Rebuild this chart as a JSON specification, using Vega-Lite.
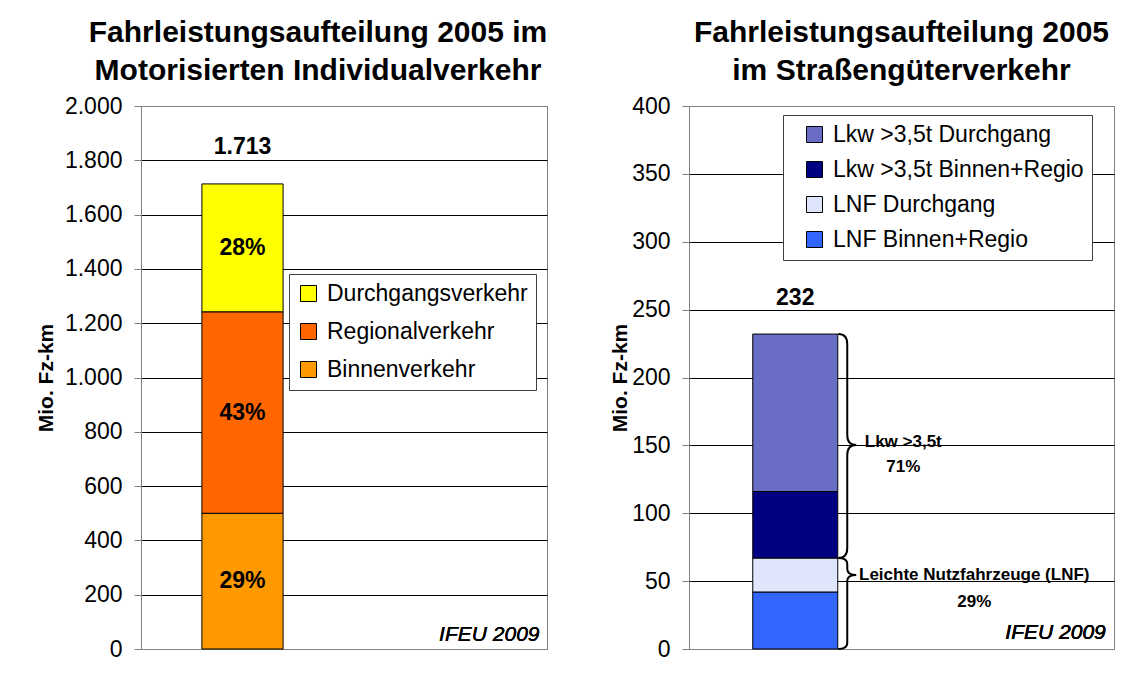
{
  "$schema": "https://vega.github.io/schema/vega-lite/v6.json",
  "background": "white",
  "padding": {"left": 34, "top": 17, "right": 5, "bottom": 5},
  "spacing": 61,
  "resolve": {"scale": {"color": "independent", "y": "independent", "x": "independent"}, "legend": {"color": "independent"}},
  "config": {
    "font": "Liberation Sans",
    "locale": {"number": {"decimal": ",", "thousands": ".", "grouping": [3], "currency": ["", " €"]}},
    "view": {"stroke": "#808080", "strokeWidth": 1},
    "axis": {
      "labelFont": "Liberation Sans", "labelFontSize": 23, "labelColor": "black",
      "titleFont": "Liberation Sans", "titleFontSize": 21, "titleFontWeight": "bold", "titleColor": "black",
      "domainColor": "#808080", "tickColor": "#808080", "tickSize": 7, "labelPadding": 12, "titlePadding": 8,
      "gridColor": "black", "gridWidth": 1
    },
    "legend": {
      "labelFont": "Liberation Sans", "labelFontSize": 23, "labelColor": "black",
      "symbolType": "square", "symbolSize": 256, "symbolStrokeColor": "black", "symbolStrokeWidth": 1,
      "fillColor": "white", "strokeColor": "#404040", "padding": 8, "labelOffset": 7, "orient": "none", "labelLimit": 400
    },
    "title": {"font": "Liberation Sans", "fontSize": 30, "fontWeight": "bold", "color": "black", "lineHeight": 38, "anchor": "middle", "frame": "group", "offset": 9},
    "text": {"color": "black"}
  },
  "hconcat": [
    {
      "width": 406,
      "height": 543,
      "title": {"text": ["Fahrleistungsaufteilung 2005 im", "Motorisierten Individualverkehr"], "dx": -26},
      "data": {"values": [
        {"cat": "MIV", "typ": "Binnenverkehr", "value": 500, "ord": 1, "label": "29%"},
        {"cat": "MIV", "typ": "Regionalverkehr", "value": 742, "ord": 2, "label": "43%"},
        {"cat": "MIV", "typ": "Durchgangsverkehr", "value": 471, "ord": 3, "label": "28%"}
      ]},
      "layer": [
        {
          "mark": {"type": "bar", "stroke": "black", "strokeWidth": 1},
          "encoding": {
            "x": {"field": "cat", "type": "nominal", "scale": {"domain": ["MIV", "_"], "paddingInner": 0.6, "paddingOuter": 0.3}, "axis": null},
            "y": {"field": "value", "type": "quantitative", "stack": "zero", "scale": {"domain": [0, 2000]},
              "axis": {"title": "Mio. Fz-km", "titlePadding": 8, "values": [0, 200, 400, 600, 800, 1000, 1200, 1400, 1600, 1800, 2000], "format": ",d",
                "gridColor": {"condition": {"test": "datum.value === 0 || datum.value === 2000", "value": "#808080"}, "value": "black"}}},
            "color": {"field": "typ", "type": "nominal",
              "scale": {"domain": ["Durchgangsverkehr", "Regionalverkehr", "Binnenverkehr"], "range": ["#FFFF00", "#FF6600", "#FF9900"]},
              "legend": {"title": null, "legendX": 148, "legendY": 168, "rowPadding": 14}},
            "order": {"field": "ord", "type": "quantitative"}
          }
        },
        {
          "mark": {"type": "text", "fontSize": 23, "fontWeight": "bold", "baseline": "middle"},
          "encoding": {
            "x": {"field": "cat", "type": "nominal"},
            "y": {"field": "value", "type": "quantitative", "stack": "zero", "bandPosition": 0.5},
            "text": {"field": "label"},
            "order": {"field": "ord", "type": "quantitative"}
          }
        },
        {
          "transform": [{"aggregate": [{"op": "sum", "field": "value", "as": "total"}], "groupby": ["cat"]}],
          "mark": {"type": "text", "fontSize": 23, "fontWeight": "bold", "baseline": "middle", "dy": -37},
          "encoding": {
            "x": {"field": "cat", "type": "nominal"},
            "y": {"field": "total", "type": "quantitative"},
            "text": {"field": "total", "type": "quantitative", "format": ",d"}
          }
        },
        {
          "mark": {"type": "text", "text": "IFEU 2009", "fontStyle": "italic", "fontSize": 21, "align": "right", "baseline": "middle", "dx": 94, "dy": -14},
          "encoding": {"x": {"datum": "_", "type": "nominal"}, "y": {"datum": 0, "type": "quantitative"}}
        }
      ]
    },
    {
      "width": 425,
      "height": 543,
      "title": {"text": ["Fahrleistungsaufteilung 2005", "im Straßengüterverkehr"]},
      "data": {"values": [
        {"cat": "SGV", "typ": "LNF Binnen+Regio", "value": 42, "ord": 1, "grp": "LNF", "grpText": "Leichte Nutzfahrzeuge (LNF)\n29%"},
        {"cat": "SGV", "typ": "LNF Durchgang", "value": 25, "ord": 2, "grp": "LNF", "grpText": "Leichte Nutzfahrzeuge (LNF)\n29%"},
        {"cat": "SGV", "typ": "Lkw >3,5t Binnen+Regio", "value": 49, "ord": 3, "grp": "Lkw", "grpText": "Lkw >3,5t\n71%"},
        {"cat": "SGV", "typ": "Lkw >3,5t Durchgang", "value": 116, "ord": 4, "grp": "Lkw", "grpText": "Lkw >3,5t\n71%"}
      ]},
      "layer": [
        {
          "mark": {"type": "bar", "stroke": "black", "strokeWidth": 1},
          "encoding": {
            "x": {"field": "cat", "type": "nominal", "scale": {"domain": ["SGV", "_"], "paddingInner": 0.6, "paddingOuter": 0.3}, "axis": null},
            "y": {"field": "value", "type": "quantitative", "stack": "zero", "scale": {"domain": [0, 400]},
              "axis": {"title": "Mio. Fz-km", "titlePadding": 1, "values": [0, 50, 100, 150, 200, 250, 300, 350, 400], "format": ",d",
                "gridColor": {"condition": {"test": "datum.value === 0 || datum.value === 400", "value": "#808080"}, "value": "black"}}},
            "color": {"field": "typ", "type": "nominal",
              "scale": {"domain": ["Lkw >3,5t Durchgang", "Lkw >3,5t Binnen+Regio", "LNF Durchgang", "LNF Binnen+Regio"], "range": ["#6a6dc4", "#000080", "#dfe5fa", "#3366FF"]},
              "legend": {"title": null, "legendX": 94, "legendY": 9, "rowPadding": 11, "symbolOffset": 12}},
            "order": {"field": "ord", "type": "quantitative"}
          }
        },
        {
          "transform": [{"aggregate": [{"op": "sum", "field": "value", "as": "total"}], "groupby": ["cat"]}],
          "mark": {"type": "text", "fontSize": 23, "fontWeight": "bold", "baseline": "middle", "dy": -36},
          "encoding": {
            "x": {"field": "cat", "type": "nominal"},
            "y": {"field": "total", "type": "quantitative"},
            "text": {"field": "total", "type": "quantitative", "format": ",d"}
          }
        },
        {
          "transform": [
            {"aggregate": [{"op": "sum", "field": "value", "as": "gsum"}], "groupby": ["cat", "grp", "grpText"]},
            {"stack": "gsum", "groupby": ["cat"], "sort": [{"field": "grp", "order": "ascending"}], "as": ["g0", "g1"]},
            {"filter": "datum.grp === 'Lkw'"}
          ],
          "mark": {"type": "point", "shape": "M0,0 Q0.18,0 0.18,0.2 L0.18,2.02 Q0.18,2.22 0.36,2.22 Q0.18,2.22 0.18,2.42 L0.18,4.28 Q0.18,4.48 0,4.48", "size": 10000, "filled": false, "stroke": "black", "strokeWidth": 2, "opacity": 1, "xOffset": 43},
          "encoding": {
            "x": {"field": "cat", "type": "nominal"},
            "y": {"field": "g1", "type": "quantitative"}
          }
        },
        {
          "transform": [
            {"aggregate": [{"op": "sum", "field": "value", "as": "gsum"}], "groupby": ["cat", "grp", "grpText"]},
            {"stack": "gsum", "groupby": ["cat"], "sort": [{"field": "grp", "order": "ascending"}], "as": ["g0", "g1"]},
            {"filter": "datum.grp === 'LNF'"}
          ],
          "mark": {"type": "point", "shape": "M0,0 Q0.18,0 0.18,0.12 L0.18,0.22 Q0.18,0.34 0.36,0.34 Q0.18,0.34 0.18,0.46 L0.18,1.7 Q0.18,1.82 0,1.82", "size": 10000, "filled": false, "stroke": "black", "strokeWidth": 2, "opacity": 1, "xOffset": 43},
          "encoding": {
            "x": {"field": "cat", "type": "nominal"},
            "y": {"field": "g1", "type": "quantitative"}
          }
        },
        {
          "transform": [
            {"aggregate": [{"op": "sum", "field": "value", "as": "gsum"}], "groupby": ["cat", "grp", "grpText"]},
            {"stack": "gsum", "groupby": ["cat"], "sort": [{"field": "grp", "order": "ascending"}], "as": ["g0", "g1"]},
            {"filter": "datum.grp === 'Lkw'"}
          ],
          "mark": {"type": "text", "fontWeight": "bold", "fontSize": 17, "lineBreak": "\n", "lineHeight": 25, "align": "center", "baseline": "middle", "dx": 108, "dy": 108},
          "encoding": {
            "x": {"field": "cat", "type": "nominal"},
            "y": {"field": "g1", "type": "quantitative"},
            "text": {"field": "grpText"}
          }
        },
        {
          "transform": [
            {"aggregate": [{"op": "sum", "field": "value", "as": "gsum"}], "groupby": ["cat", "grp", "grpText"]},
            {"stack": "gsum", "groupby": ["cat"], "sort": [{"field": "grp", "order": "ascending"}], "as": ["g0", "g1"]},
            {"filter": "datum.grp === 'LNF'"}
          ],
          "mark": {"type": "text", "fontWeight": "bold", "fontSize": 17, "lineBreak": "\n", "lineHeight": 27, "align": "center", "baseline": "middle", "dx": 179, "dy": 17},
          "encoding": {
            "x": {"field": "cat", "type": "nominal"},
            "y": {"field": "g1", "type": "quantitative"},
            "text": {"field": "grpText"}
          }
        },
        {
          "mark": {"type": "text", "text": "IFEU 2009", "fontStyle": "italic", "fontSize": 21, "align": "right", "baseline": "middle", "dx": 98, "dy": -16},
          "encoding": {"x": {"datum": "_", "type": "nominal"}, "y": {"datum": 0, "type": "quantitative"}}
        }
      ]
    }
  ]
}
